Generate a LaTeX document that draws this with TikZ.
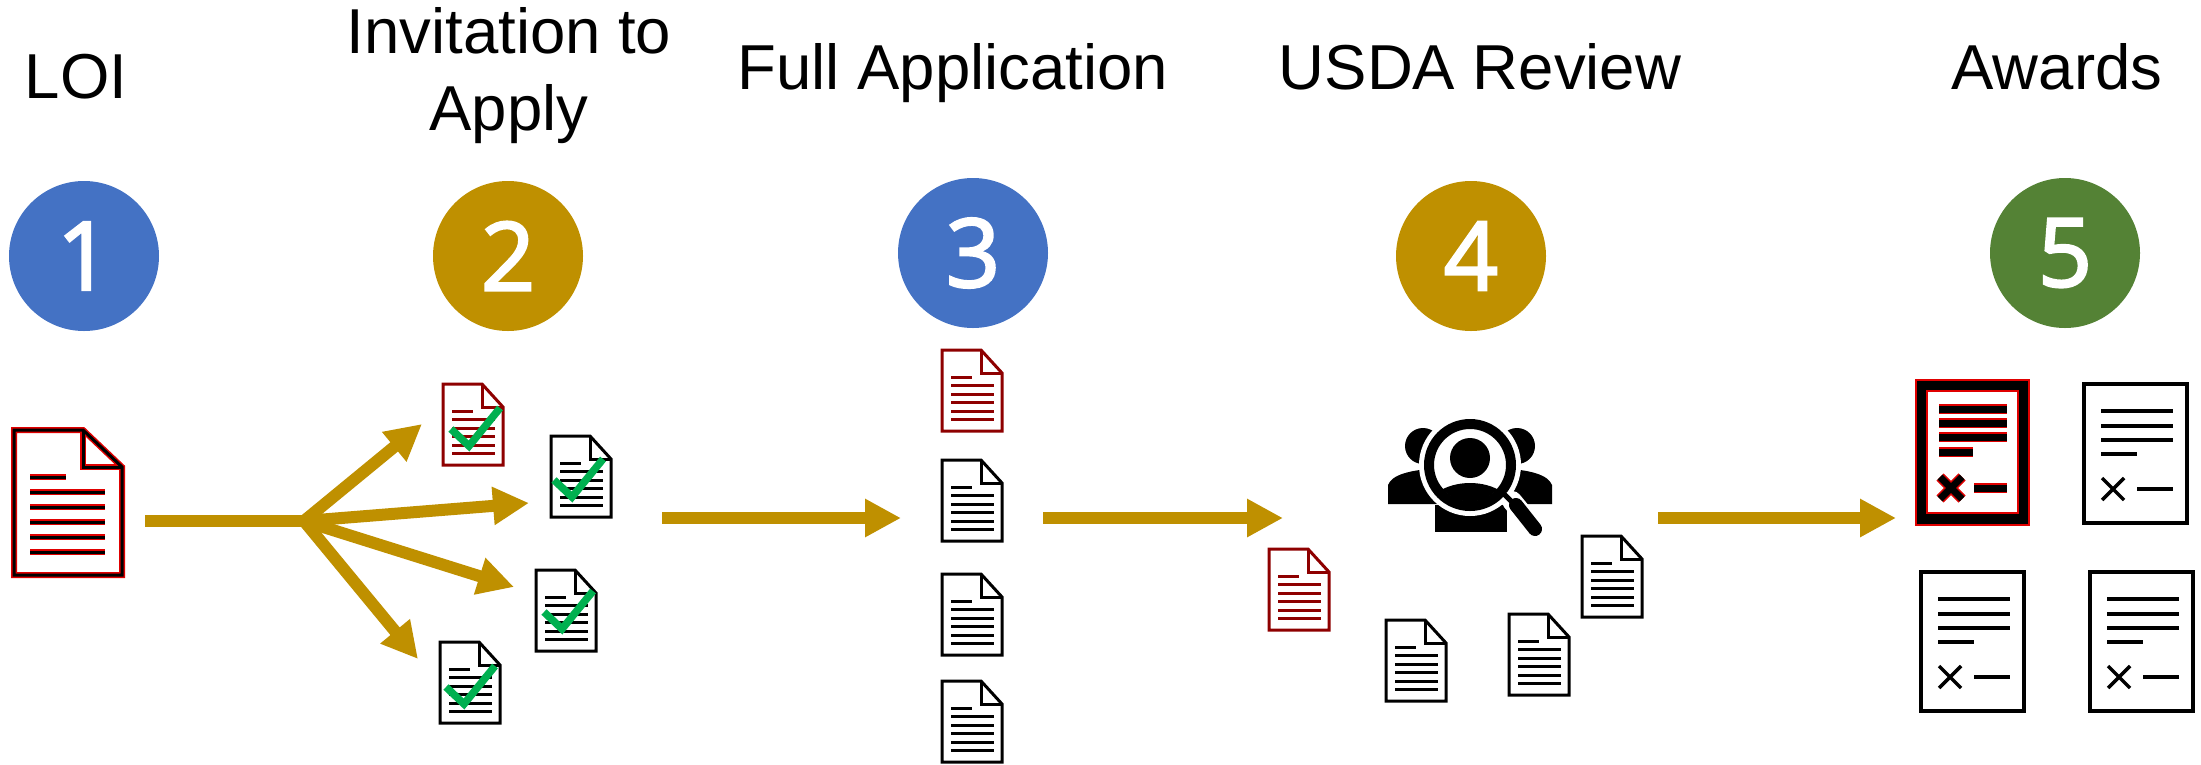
\documentclass[tikz,border=0pt]{standalone}
\usepackage{fontspec}
\setmainfont{Liberation Sans}
\newfontfamily\digitfont[FakeBold=2.5]{Open Sans}
\usetikzlibrary{arrows.meta,positioning}
\definecolor{stepblue}{HTML}{4472C4}
\definecolor{stepgold}{HTML}{BF9000}
\definecolor{stepgreen}{HTML}{548235}
\definecolor{arrowgold}{HTML}{BF9000}
\definecolor{checkgreen}{HTML}{00B050}
\definecolor{loired}{HTML}{8E0000}
\definecolor{haloed}{HTML}{E00000}
\tikzset{
  docsmall/.pic={
    \draw[#1, line width=3, fill=white, line join=miter] (0,0) -- (39,0) -- (60,23) -- (60,81) -- (0,81) -- cycle;
    \draw[#1, line width=3] (39,0) -- (39,23) -- (60,23);
    \draw[#1, line width=3] (9,27) -- (30,27);
    \foreach \ly in {35,44,52,61,69} \draw[#1, line width=3] (9,\ly) -- (52,\ly);
  },
  docbig/.pic={
    \foreach \lc/\lw in {haloed/6, black/3} {
      \draw[\lc, line width=\lw] (0,0) -- (69,0) -- (108,37) -- (108,145) -- (0,145) -- cycle;
      \draw[\lc, line width=\lw] (69,0) -- (69,37) -- (108,37);
      \draw[\lc, line width=\lw] (16,47) -- (52,47);
      \foreach \ly in {62,77,92,107,122} \draw[\lc, line width=\lw] (16,\ly) -- (91,\ly);
    }
  },
  checkmark/.pic={
    \draw[checkgreen, line width=7.5] (0,0) -- (18,17) -- (49,-21);
  },
  awardbox/.pic={
    \draw[black, line width=4] (0,0) rectangle (103,139);
    \foreach \ly in {27,42,56} \draw[black, line width=4.5] (17,\ly) -- (89,\ly);
    \draw[black, line width=4.5] (17,70) -- (53,70);
    \draw[black, line width=3.5] (18,94) -- (40,116) (40,94) -- (18,116);
    \draw[black, line width=4.5] (53,105) -- (89,105);
  },
  awardred/.pic={
    \draw[haloed, fill=black, line width=1.5] (0,0) rectangle (113,145);
    \draw[haloed, fill=white, line width=1.5] (11,11) rectangle (102,133);
    \foreach \lc/\lw in {haloed/10, black/7} {
      \foreach \ly in {29,43,57} \draw[\lc, line width=\lw] (23,\ly) -- (91,\ly);
      \draw[\lc, line width=\lw] (23,72) -- (57,72);
      \draw[\lc, line width=\lw] (58,108) -- (91,108);
    }
    \foreach \lc/\lw in {haloed/10, black/7} \draw[\lc, line width=\lw] (24,97) -- (46,119) (46,97) -- (24,119);
  },
  reviewicon/.pic={
    \fill (-47,-19) circle (18) (47,-19) circle (18);
    \fill (-82,39) -- (-82,20) .. controls (-78,10) and (-62,5) .. (-30,3) -- (-30,39) -- cycle;
    \fill (82,39) -- (82,20) .. controls (78,10) and (62,5) .. (30,3) -- (30,39) -- cycle;
    \fill (-35,67) -- (-35,40) -- (37,40) -- (37,67) -- cycle;
    \fill[white] (0,0) circle (51);
    \draw[line width=10, fill=white] (0,0) circle (41);
    \fill (0,-7) circle (20);
    \begin{scope}
      \clip (0,0) circle (36.5);
      \fill (0,48) ellipse (45 and 30);
    \end{scope}
    \draw[white, line width=20, line cap=round] (42,36) -- (65,64);
    \draw[line width=5] (30,25) -- (46,41);
    \draw[line width=14, line cap=round] (46,40) -- (65,64);
  }
}
\begin{document}
\begin{tikzpicture}[x=1pt, y=-1pt, >={Triangle[length=36pt, width=36pt]}]
  \tikzstyle{stepdot} = [circle, minimum size=150, inner sep=0, text=white, font=\digitfont\fontsize{95}{95}\selectfont]
  \tikzstyle{steptitle} = [align=center, inner sep=0, font=\fontsize{63.5}{77}\selectfont]
  \tikzstyle{flow} = [arrowgold, line width=12]
  \useasboundingbox (0,0) rectangle (2201,764);

  \node[stepdot, fill=stepblue]  (one)   at (84,256)   {1};
  \node[stepdot, fill=stepgold]  (two)   at (508,256)  {2};
  \node[stepdot, fill=stepblue]  (three) at (973,253)  {3};
  \node[stepdot, fill=stepgold]  (four)  at (1471,256) {4};
  \node[stepdot, fill=stepgreen] (five)  at (2065,253) {5};

  \node[steptitle, anchor=base] (loi)    at (76,98)    {LOI};
  \node[steptitle] (invite) at (509,76)  {Invitation to\\Apply};
  \node[steptitle, anchor=base] (full)   at (953,89)   {Full Application};
  \node[steptitle, anchor=base] (usda)   at (1480,89)  {USDA Review};
  \node[steptitle, anchor=base] (award)  at (2057,89)  {Awards};

  \pic (loidoc) at (14,430) {docbig};

  \pic (inva) at (443,384) {docsmall=loired};
  \pic (invb) at (551,436) {docsmall=black};
  \pic (invc) at (536,570) {docsmall=black};
  \pic (invd) at (440,642) {docsmall=black};
  \pic (cha) at (451,429) {checkmark};
  \pic (chb) at (554,480) {checkmark};
  \pic (chc) at (544,612) {checkmark};
  \pic (chd) at (446,687) {checkmark};

  \pic (fulla) at (942,350) {docsmall=loired};
  \pic (fullb) at (942,460) {docsmall=black};
  \pic (fullc) at (942,574) {docsmall=black};
  \pic (fulld) at (942,681) {docsmall=black};

  \pic (reva) at (1269,549) {docsmall=loired};
  \pic (revb) at (1386,620) {docsmall=black};
  \pic (revc) at (1509,614) {docsmall=black};
  \pic (revd) at (1582,536) {docsmall=black};
  \pic (panel) at (1470,465) {reviewicon};

  \pic (awa) at (1916,380) {awardred};
  \pic (awb) at (2084,384) {awardbox};
  \pic (awc) at (1921,572) {awardbox};
  \pic (awd) at (2090,572) {awardbox};

  \coordinate (loiout) at (145,521);
  \coordinate (hub)    at (304,521);
  \coordinate (tipa)   at (422,424);
  \coordinate (tipb)   at (529,503);
  \coordinate (tipc)   at (514,587);
  \coordinate (tipd)   at (418,659);
  \coordinate (invout) at (662,518);
  \coordinate (fullin) at (901,518);
  \coordinate (fullout) at (1043,518);
  \coordinate (revin)  at (1283,518);
  \coordinate (revout) at (1658,518);
  \coordinate (awin)   at (1896,518);

  \draw[flow] (loiout) -- (hub);
  \draw[flow, ->] (hub) -- (tipa);
  \draw[flow, ->] (hub) -- (tipb);
  \draw[flow, ->] (hub) -- (tipc);
  \draw[flow, ->] (hub) -- (tipd);
  \draw[flow, ->] (invout) -- (fullin);
  \draw[flow, ->] (fullout) -- (revin);
  \draw[flow, ->] (revout) -- (awin);
\end{tikzpicture}
\end{document}
